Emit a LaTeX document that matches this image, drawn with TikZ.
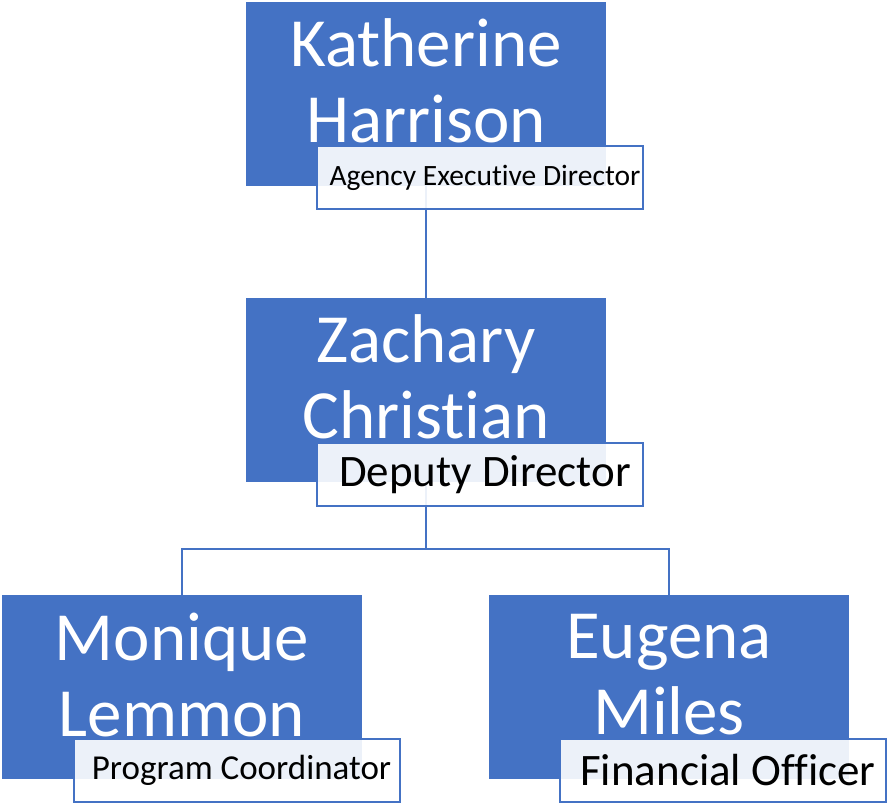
\documentclass[tikz,border=0pt]{standalone}
\usepackage{fontspec}
\setmainfont{Carlito}[Ligatures=NoCommon]
\definecolor{accent}{HTML}{4472C4}

\begin{document}
\begin{tikzpicture}[x=1pt, y=-1pt,
  namebox/.style={fill=accent, minimum width=360pt, minimum height=184pt, inner sep=0pt},
  nametext/.style={text=white, align=center, font=\fontsize{69}{76}\selectfont},
  titlebox/.style={draw=accent, line width=2pt, fill=white, fill opacity=0.9, text opacity=1,
    minimum width=326pt, minimum height=63pt, inner sep=0pt, execute at begin node=\hspace*{10pt}},
  conn/.style={draw=accent, line width=2.8pt}]
\useasboundingbox (0,0) rectangle (888,804);
\node[namebox] (kh) at (426,94) {};
\node[namebox] (zc) at (426,390) {};
\node[namebox] (ml) at (182,687) {};
\node[namebox] (em) at (669,687) {};
\node[nametext] (khname) at ([yshift=13pt]kh.center) {Katherine\\Harrison};
\node[nametext] (zcname) at ([yshift=13pt]zc.center) {Zachary\\Christian};
\node[nametext] (mlname) at ([yshift=12pt]ml.center) {Monique\\Lemmon};
\node[nametext] (emname) at ([yshift=12pt]em.center) {Eugena\\Miles};
\coordinate (fork) at (426,549);
\draw[conn] (kh.south) -- (zc.north);
\draw[conn] (zc.south) -- (fork) -| (ml.north);
\draw[conn] (fork) -| (em.north);
\node[titlebox, font=\fontsize{29.5}{34}\selectfont] (khtitle) at (480,177.5) {Agency Executive Director};
\node[titlebox, font=\fontsize{45}{50}\selectfont] (zctitle) at (480,474.5) {Deputy Director};
\node[titlebox, font=\fontsize{35}{40}\selectfont] (mltitle) at (236.5,770.5) {Program Coordinator};
\node[titlebox, font=\fontsize{45}{50}\selectfont] (emtitle) at (723,770.5) {Financial Officer};
\end{tikzpicture}
\end{document}
